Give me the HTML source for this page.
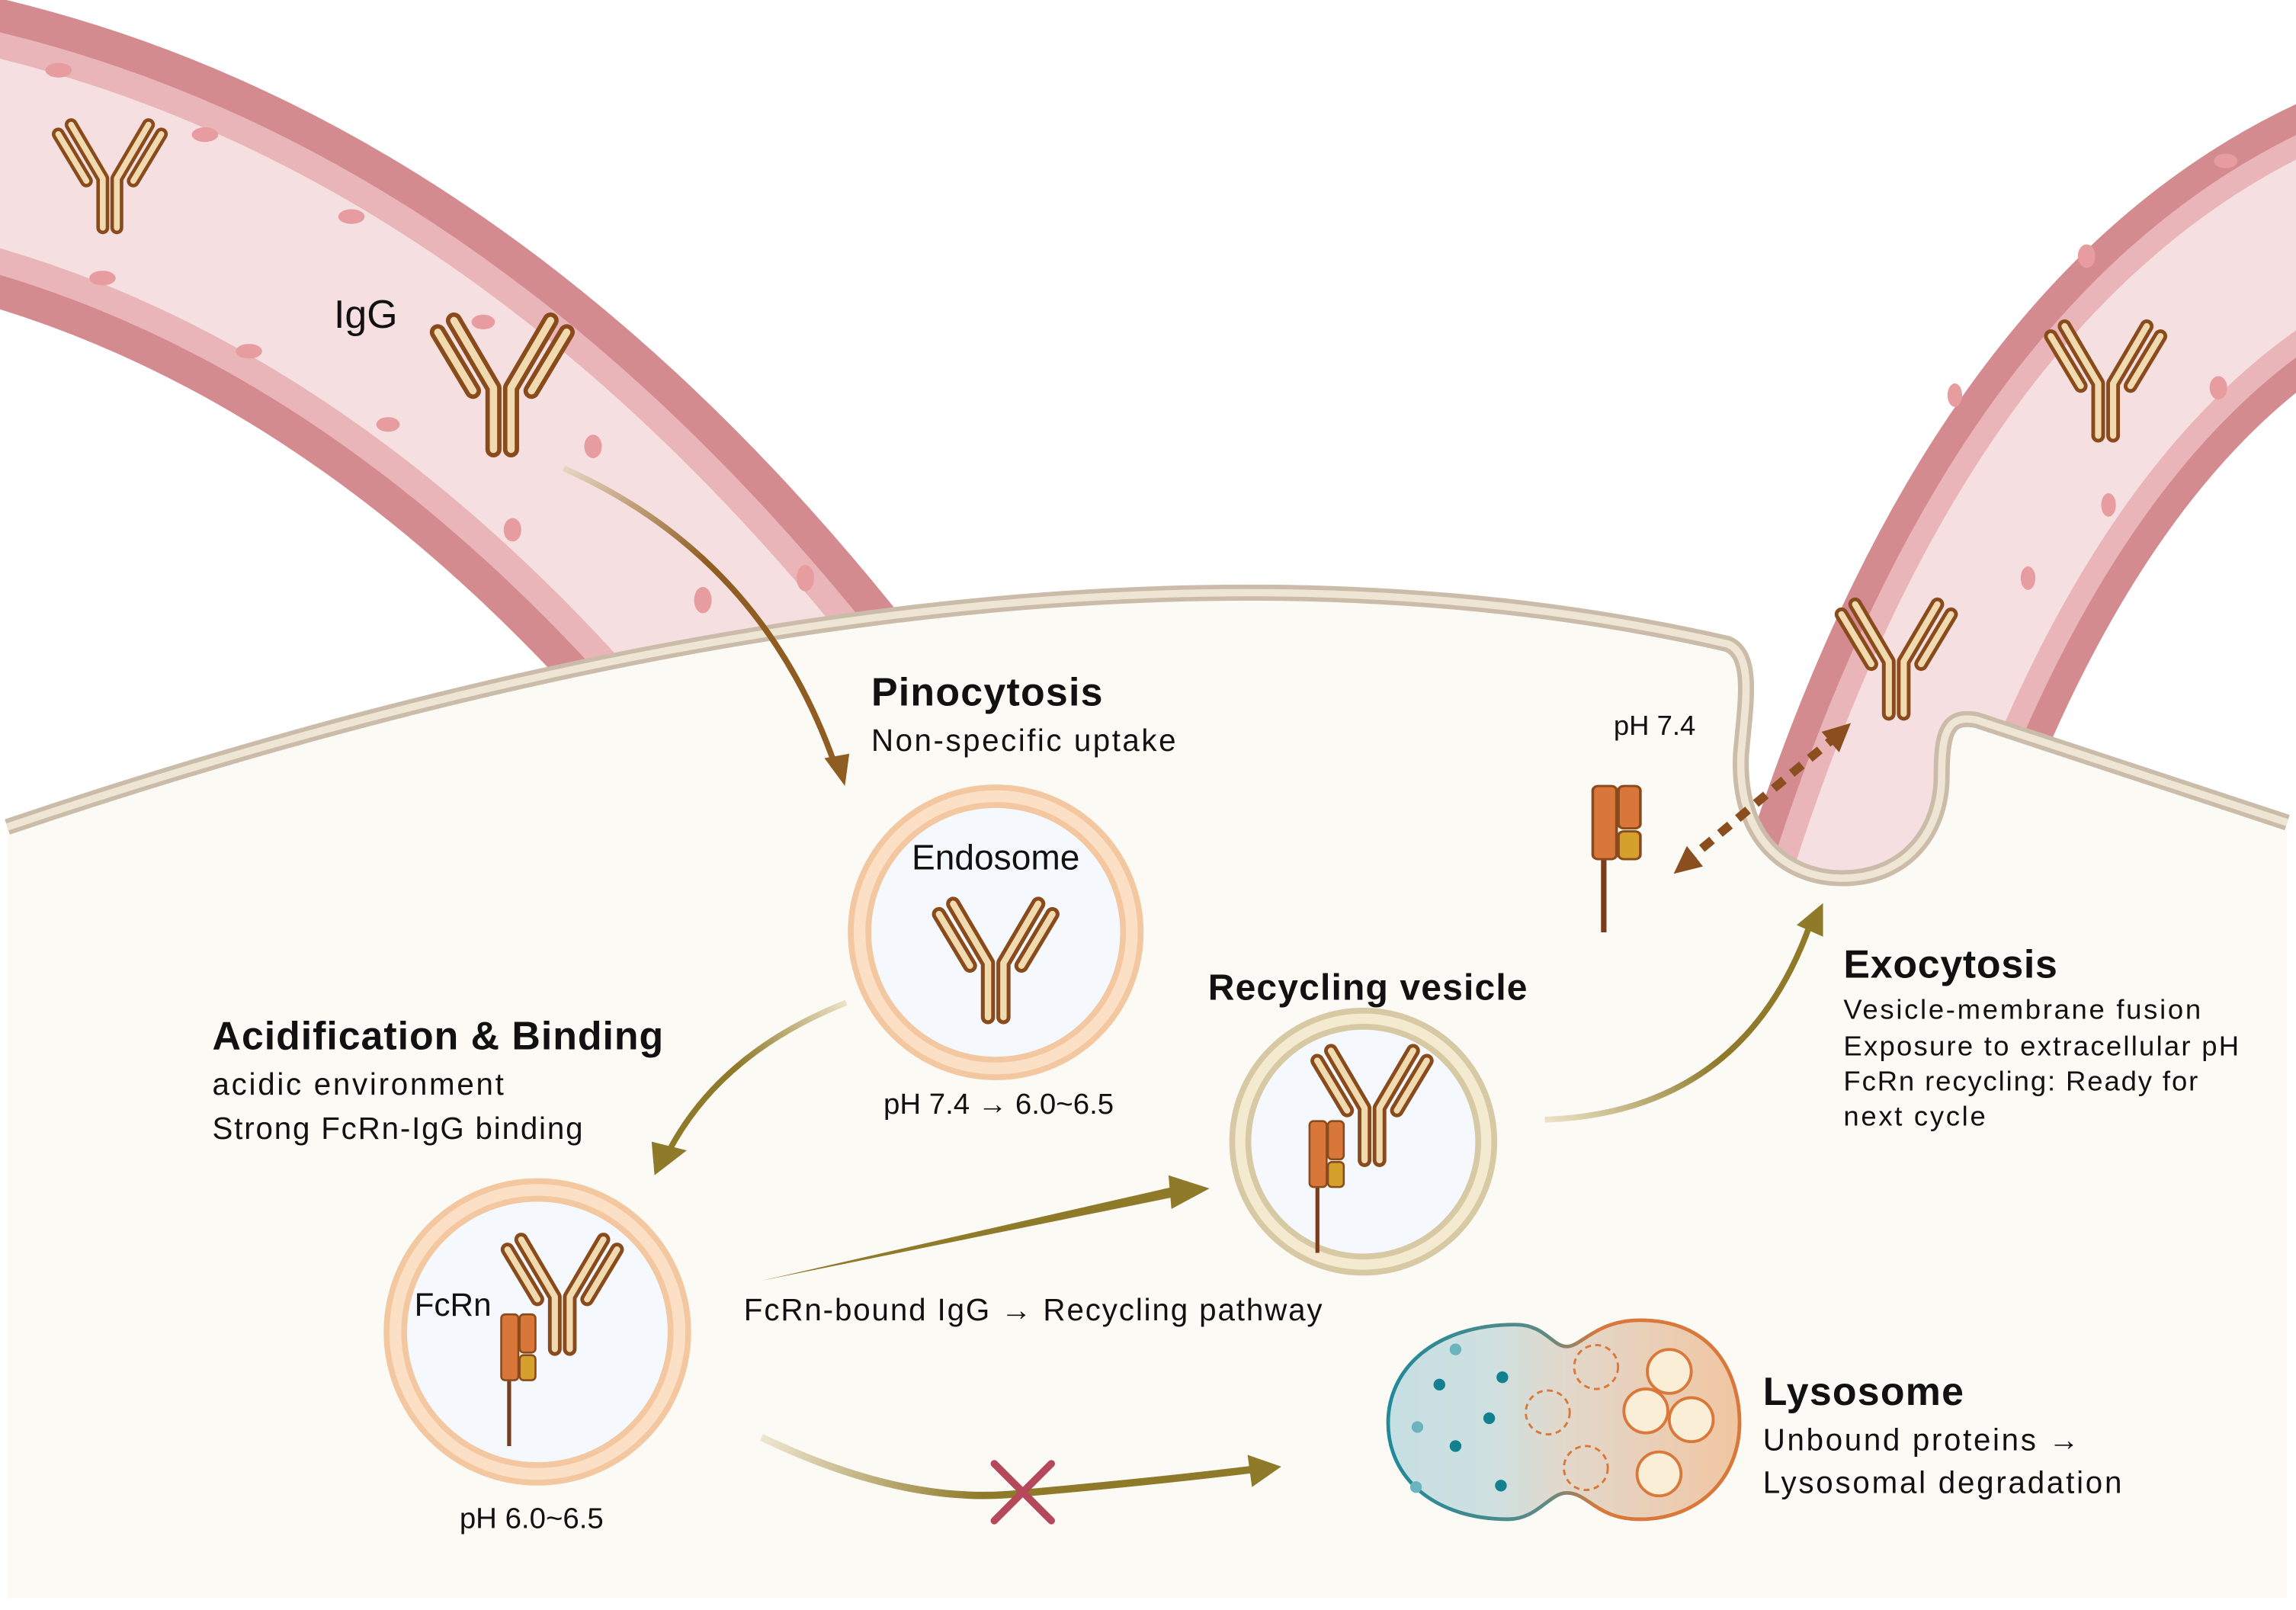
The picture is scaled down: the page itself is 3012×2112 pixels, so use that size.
<!DOCTYPE html>
<html><head><meta charset="utf-8"><style>
html,body{margin:0;padding:0;background:#fff;}
svg{display:block;}
text{font-family:"Liberation Sans",sans-serif;fill:#111;}
.b{font-weight:bold;}
</style></head><body>
<svg width="3012" height="2112" viewBox="0 0 1568 1100" preserveAspectRatio="none" xmlns="http://www.w3.org/2000/svg">
<defs>
<symbol id="ab" overflow="visible">
 <g fill="none" stroke-linecap="round" stroke-linejoin="round">
  <g stroke="#8a4b1c" stroke-width="11">
   <path d="M-6,42 L-6,0 L-33,-46"/><path d="M6,42 L6,0 L33,-46"/>
   <path d="M-20,2 L-44,-38"/><path d="M20,2 L44,-38"/>
  </g>
  <g stroke="#f1d9b0" stroke-width="5">
   <path d="M-6,42 L-6,0 L-33,-46"/><path d="M6,42 L6,0 L33,-46"/>
   <path d="M-20,2 L-44,-38"/><path d="M20,2 L44,-38"/>
  </g>
 </g>
</symbol>
<symbol id="fc" overflow="visible">
 <line x1="-7" y1="48" x2="-7" y2="100" stroke="#7a3d1c" stroke-width="3"/>
 <rect x="-13" y="0" width="13" height="50" rx="3" fill="#d9773a" stroke="#8a4b1c" stroke-width="1.5"/>
 <rect x="1" y="0" width="12" height="29" rx="3" fill="#d9773a" stroke="#8a4b1c" stroke-width="1.5"/>
 <rect x="1" y="31" width="12" height="19" rx="3" fill="#d6a02d" stroke="#8a4b1c" stroke-width="1.5"/>
</symbol>
<linearGradient id="lys" x1="0" x2="1" y1="0" y2="0">
 <stop offset="0" stop-color="#c6dfe3"/><stop offset="0.3" stop-color="#cfe0e0"/><stop offset="0.5" stop-color="#e2d8cb"/><stop offset="1" stop-color="#f1c6a2"/>
</linearGradient>
<linearGradient id="lysS" x1="0" x2="1" y1="0" y2="0">
 <stop offset="0" stop-color="#1f8a9a"/><stop offset="0.45" stop-color="#5e8a86"/><stop offset="0.6" stop-color="#d9783a"/><stop offset="1" stop-color="#d9783a"/>
</linearGradient>
<linearGradient id="g1" gradientUnits="userSpaceOnUse" x1="385" y1="320" x2="575" y2="530">
 <stop offset="0" stop-color="#e7d6c2"/><stop offset="0.4" stop-color="#8f5d22"/><stop offset="1" stop-color="#8f5d22"/>
</linearGradient>
<linearGradient id="g2" gradientUnits="userSpaceOnUse" x1="578" y1="685" x2="450" y2="795">
 <stop offset="0" stop-color="#ece2c6"/><stop offset="0.5" stop-color="#8f7a2a"/><stop offset="1" stop-color="#8f7a2a"/>
</linearGradient>
<linearGradient id="g3" gradientUnits="userSpaceOnUse" x1="1055" y1="765" x2="1240" y2="620">
 <stop offset="0" stop-color="#ece2c6"/><stop offset="0.5" stop-color="#8f7a2a"/><stop offset="1" stop-color="#8f7a2a"/>
</linearGradient>
<linearGradient id="g4" gradientUnits="userSpaceOnUse" x1="520" y1="980" x2="860" y2="1005">
 <stop offset="0" stop-color="#efe6d0"/><stop offset="0.45" stop-color="#8f7a2a"/><stop offset="1" stop-color="#8f7a2a"/>
</linearGradient>
</defs>

<rect width="1568" height="1100" fill="#fff"/>

<!-- left vessel -->
<g fill="none">
 <path d="M-40,95 Q300,168 570,530" stroke="#d38b8f" stroke-width="205"/>
 <path d="M-40,95 Q300,168 570,530" stroke="#e9b5b8" stroke-width="160"/>
 <path d="M-40,95 Q300,168 570,530" stroke="#f6dfe0" stroke-width="125"/>
</g>
<g fill="#e79ca0">
 <ellipse cx="40" cy="48" rx="9" ry="5"/><ellipse cx="140" cy="92" rx="9" ry="5"/><ellipse cx="240" cy="148" rx="9" ry="5"/><ellipse cx="330" cy="220" rx="8" ry="5"/><ellipse cx="405" cy="305" rx="6" ry="8"/><ellipse cx="480" cy="410" rx="6" ry="9"/>
 <ellipse cx="70" cy="190" rx="9" ry="5"/><ellipse cx="170" cy="240" rx="9" ry="5"/><ellipse cx="265" cy="290" rx="8" ry="5"/><ellipse cx="350" cy="362" rx="6" ry="8"/><ellipse cx="550" cy="395" rx="6" ry="9"/>
</g>

<!-- right vessel -->
<g fill="none">
 <path d="M1620,140 Q1380,240 1260,650" stroke="#d38b8f" stroke-width="168"/>
 <path d="M1620,140 Q1380,240 1260,650" stroke="#e9b5b8" stroke-width="130"/>
 <path d="M1620,140 Q1380,240 1260,650" stroke="#f6dfe0" stroke-width="100"/>
</g>
<g fill="#e79ca0">
 <ellipse cx="1520" cy="110" rx="8" ry="5"/><ellipse cx="1425" cy="175" rx="6" ry="8"/><ellipse cx="1335" cy="270" rx="5" ry="8"/><ellipse cx="1515" cy="265" rx="6" ry="8"/><ellipse cx="1440" cy="345" rx="5" ry="8"/><ellipse cx="1385" cy="395" rx="5" ry="8"/>
</g>

<!-- cell body -->
<path d="M5,565 Q700,330 1180,440 C1198,448 1192,480 1189,515 C1186,575 1222,600 1258,600 C1300,600 1326,570 1326,530 C1326,500 1330,488 1350,492 L1562,562 L1562,1092 L5,1092 Z" fill="#fcfaf5"/>
<path d="M5,565 Q700,330 1180,440 C1198,448 1192,480 1189,515 C1186,575 1222,600 1258,600 C1300,600 1326,570 1326,530 C1326,500 1330,488 1350,492 L1562,562" fill="none" stroke="#cbbca9" stroke-width="11"/>
<path d="M5,565 Q700,330 1180,440 C1198,448 1192,480 1189,515 C1186,575 1222,600 1258,600 C1300,600 1326,570 1326,530 C1326,500 1330,488 1350,492 L1562,562" fill="none" stroke="#eee5d5" stroke-width="5"/>

<!-- antibodies in vessels -->
<use href="#ab" transform="translate(75,122) scale(0.8)"/>
<use href="#ab" transform="translate(343,265)"/>
<use href="#ab" transform="translate(1438,262) scale(0.85)"/>
<use href="#ab" transform="translate(1295,452) scale(0.85)"/>
<text x="228" y="224" font-size="27">IgG</text>

<!-- pinocytosis arrow -->
<path d="M385,320 Q520,380 570,522" fill="none" stroke="url(#g1)" stroke-width="4"/>
<polygon points="563,518 580,515 577,537" fill="#8f5d22"/>
<text x="595" y="482" font-size="27" class="b" textLength="158">Pinocytosis</text>
<text x="595" y="513" font-size="21" textLength="208">Non-specific uptake</text>

<!-- endosome -->
<circle cx="680" cy="637" r="93" fill="#f5f8fc" stroke="#f3c7a0" stroke-width="16"/>
<circle cx="680" cy="637" r="93" fill="none" stroke="#fbe0c6" stroke-width="8"/>
<text x="680" y="594" font-size="24" text-anchor="middle">Endosome</text>
<use href="#ab" transform="translate(680,658) scale(0.88)"/>
<text x="682" y="761" font-size="20" text-anchor="middle">pH 7.4 → 6.0~6.5</text>

<!-- arrow endosome->FcRn -->
<path d="M578,685 Q490,720 455,790" fill="none" stroke="url(#g2)" stroke-width="4"/>
<polygon points="445,780 469,786 447,803" fill="#8f7a2a"/>

<text x="145" y="717" font-size="27" class="b" textLength="308">Acidification &amp; Binding</text>
<text x="145" y="748" font-size="21" textLength="199">acidic environment</text>
<text x="145" y="778" font-size="21" textLength="253">Strong FcRn-IgG binding</text>

<!-- FcRn vesicle -->
<circle cx="367" cy="910" r="97" fill="#f5f8fc" stroke="#f3c7a0" stroke-width="16"/>
<circle cx="367" cy="910" r="97" fill="none" stroke="#fbe0c6" stroke-width="8"/>
<use href="#ab" transform="translate(384,886) scale(0.85)"/>
<use href="#fc" transform="translate(354,898) scale(0.9,0.9)"/>
<text x="283" y="899" font-size="22">FcRn</text>
<text x="363" y="1044" font-size="20" text-anchor="middle">pH 6.0~6.5</text>

<!-- recycling arrow -->
<polygon points="520,875 805,810 806,817" fill="#8f7a2a"/>
<polygon points="798,803 826,812 800,826" fill="#8f7a2a"/>
<text x="508" y="902" font-size="21" textLength="395">FcRn-bound IgG → Recycling pathway</text>

<!-- recycling vesicle -->
<circle cx="931" cy="780" r="84" fill="#f5f8fc" stroke="#d8c9a5" stroke-width="15"/>
<circle cx="931" cy="780" r="84" fill="none" stroke="#f4ead0" stroke-width="7"/>
<use href="#ab" transform="translate(937,757) scale(0.85)"/>
<use href="#fc" transform="translate(906,766) scale(0.9,0.9)"/>
<text x="825" y="683" font-size="25" class="b" textLength="218">Recycling vesicle</text>

<!-- exocytosis arrow -->
<path d="M1055,765 Q1190,760 1236,632" fill="none" stroke="url(#g3)" stroke-width="4"/>
<polygon points="1227,632 1245,617 1245,640" fill="#8f7a2a"/>
<text x="1259" y="668" font-size="27" class="b" textLength="146">Exocytosis</text>
<text x="1259" y="696" font-size="19" textLength="244">Vesicle-membrane fusion</text>
<text x="1259" y="721" font-size="19" textLength="270">Exposure to extracellular pH</text>
<text x="1259" y="745" font-size="19" textLength="242">FcRn recycling: Ready for</text>
<text x="1259" y="769" font-size="19" textLength="97">next cycle</text>

<!-- pH 7.4 and free FcRn -->
<text x="1102" y="502" font-size="19">pH 7.4</text>
<use href="#fc" transform="translate(1104,537) scale(1.25,1.0)"/>
<line x1="1150" y1="590" x2="1254" y2="503" stroke="#8b4f1f" stroke-width="6" stroke-dasharray="9,7"/>
<polygon points="1143,597 1152,578 1163,592" fill="#8b4f1f"/>
<polygon points="1264,494 1244,500 1256,514" fill="#8b4f1f"/>

<!-- degradation arrow -->
<path d="M520,982 Q620,1030 700,1020 Q790,1012 855,1004" fill="none" stroke="url(#g4)" stroke-width="5"/>
<polygon points="852,994 875,1002 855,1016" fill="#8f7a2a"/>
<g stroke="#b5485a" stroke-width="5" stroke-linecap="round">
 <line x1="679" y1="1000" x2="718" y2="1039"/><line x1="718" y1="1000" x2="679" y2="1039"/>
</g>

<!-- lysosome -->
<path d="M1035,905 C1055,905 1060,920 1070,920 C1080,920 1090,902 1120,902 C1175,902 1188,945 1188,972 C1188,1010 1160,1038 1120,1038 C1090,1038 1085,1020 1070,1020 C1058,1020 1050,1038 1030,1038 C980,1038 948,1010 948,972 C948,935 980,905 1035,905 Z" fill="url(#lys)" stroke="url(#lysS)" stroke-width="2.5"/>
<g fill="#fbeed6" stroke="#d9783a" stroke-width="2">
 <circle cx="1140" cy="937" r="15"/><circle cx="1124" cy="964" r="15"/><circle cx="1155" cy="970" r="15"/><circle cx="1133" cy="1007" r="15"/>
</g>
<g fill="none" stroke="#d9783a" stroke-width="1.5" stroke-dasharray="4,3">
 <circle cx="1090" cy="934" r="15"/><circle cx="1057" cy="965" r="15"/><circle cx="1083" cy="1003" r="15"/>
</g>
<g fill="#12808f">
 <circle cx="983" cy="946" r="4"/><circle cx="1026" cy="941" r="4"/><circle cx="1017" cy="969" r="4"/><circle cx="994" cy="988" r="4"/><circle cx="1025" cy="1015" r="4"/>
</g>
<g fill="#6cb4bd">
 <circle cx="994" cy="922" r="4"/><circle cx="968" cy="975" r="4"/><circle cx="967" cy="1016" r="4"/>
</g>
<text x="1204" y="960" font-size="27" class="b" textLength="137">Lysosome</text>
<text x="1204" y="991" font-size="21" textLength="216">Unbound proteins →</text>
<text x="1204" y="1020" font-size="21" textLength="245">Lysosomal degradation</text>
</svg>
</body></html>
